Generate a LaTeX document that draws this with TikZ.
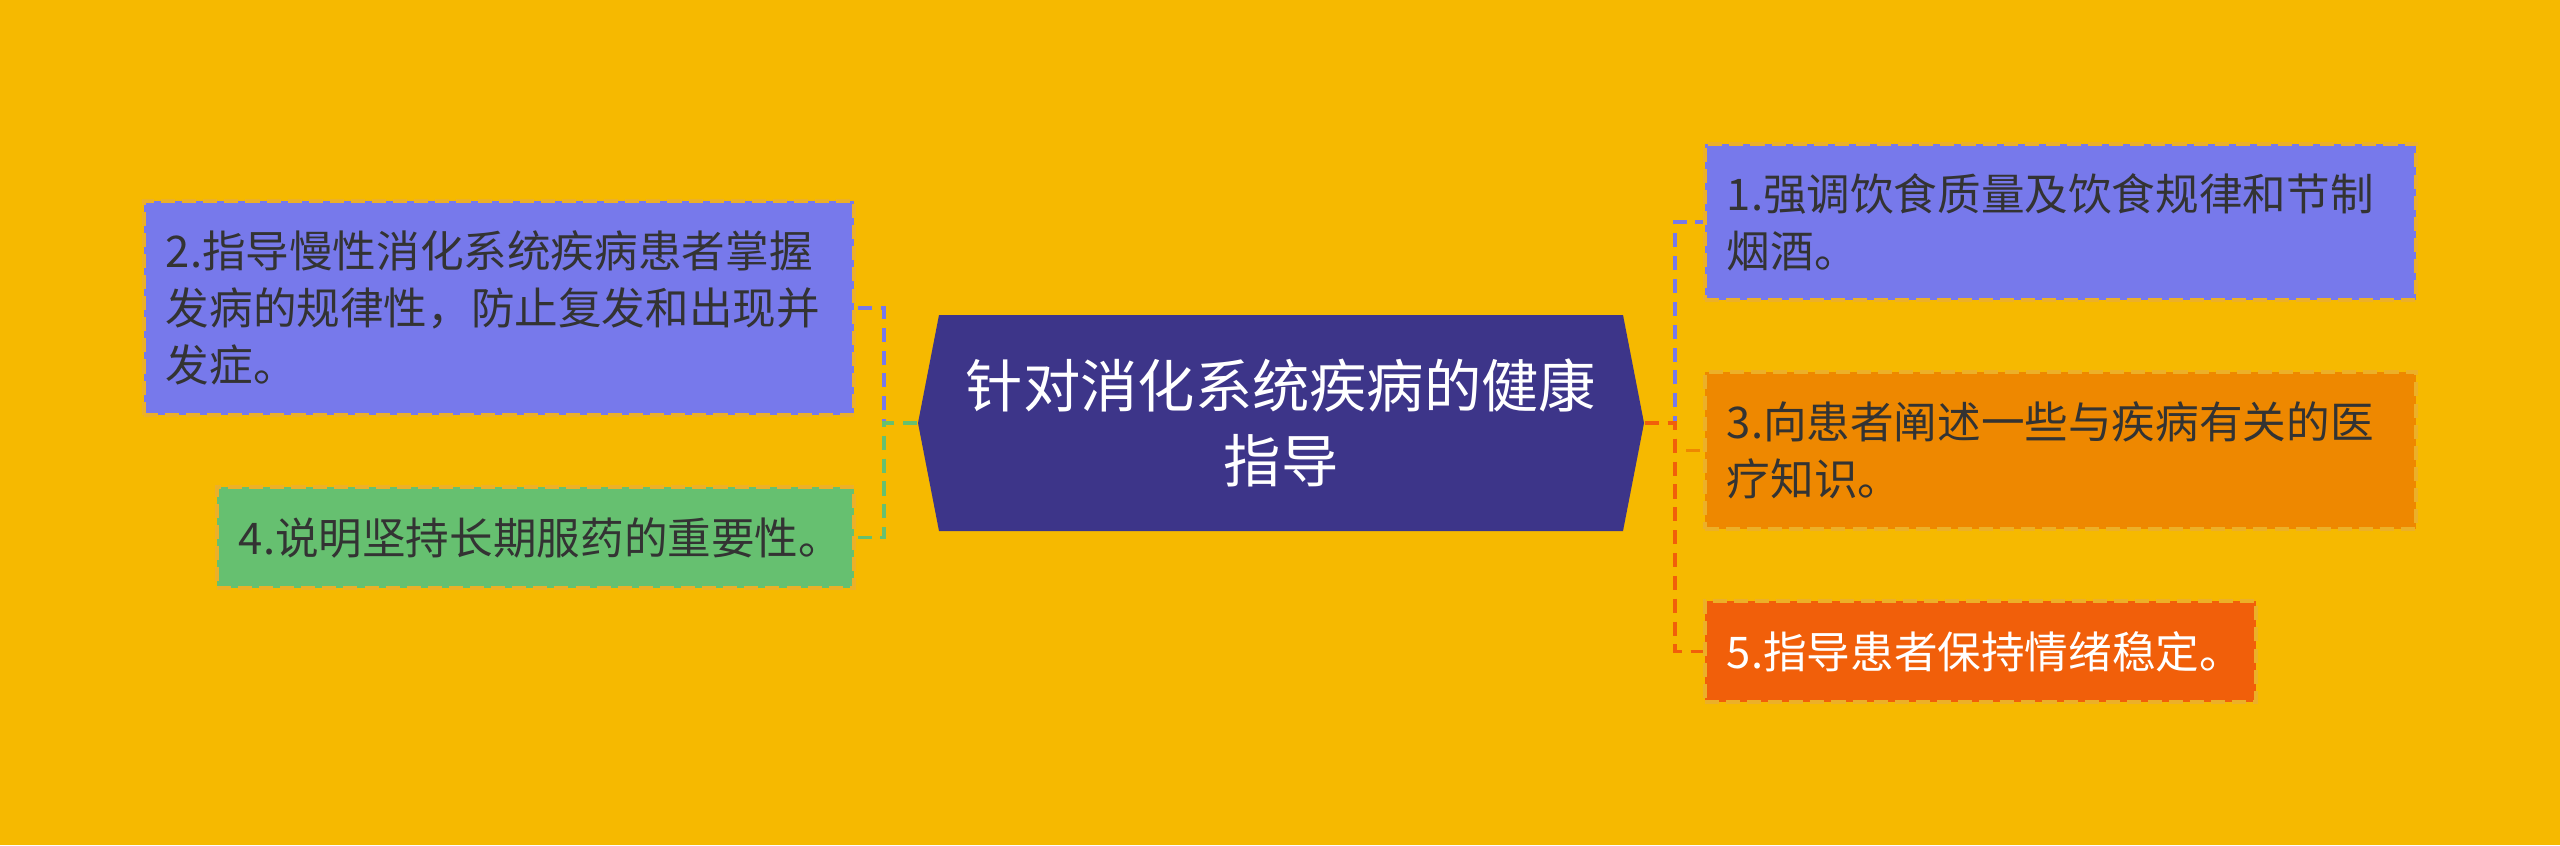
\documentclass[tikz,border=0pt]{standalone}
\usepackage{fontspec}
\usepackage{tikz}
\usepackage{xcolor}
\newfontfamily\cjk{Noto Sans CJK SC}
\definecolor{tbg}{RGB}{246,185,0}
\definecolor{tmain}{RGB}{61,53,137}
\definecolor{tblue}{RGB}{119,121,235}
\definecolor{torange}{RGB}{238,136,0}
\definecolor{tgreen}{RGB}{102,192,112}
\definecolor{tred}{RGB}{241,95,10}
\definecolor{tedgecol}{RGB}{236,176,40}
\definecolor{ttext}{RGB}{51,51,51}

\begin{document}
\begin{tikzpicture}[x=0.01cm,y=-0.01cm]
\tikzstyle{box} = [
  shape=rectangle,
  draw=tedgecol,
  dash pattern=on 4pt off 2pt,
  line width=1pt,
  inner xsep=0.22cm,
  inner ysep=0pt,
  align=left,
  text=ttext,
  font=\cjk\fontsize{12.4pt}{16.2pt}\selectfont
]
\tikzstyle{mainnode} = [
  shape=rectangle,
  minimum width=7.26cm,
  minimum height=2.16cm,
  inner sep=0pt,
  align=center,
  text=white,
  font=\cjk\fontsize{16.3pt}{21.4pt}\selectfont
]
\tikzstyle{conn} = [
  line width=1pt,
  dash pattern=on 4pt off 2.5pt
]

\fill[tbg] (0,0) rectangle (2560,845);

% central hexagon
\fill[tmain] (918,423) -- (939,315) -- (1623,315) -- (1644,423) -- (1623,531) -- (939,531) -- cycle;
\node[mainnode] (m) at (1281,423) {针对消化系统疾病的健康\\指导};

\node[box, fill=tblue, text width=6.67cm, minimum height=1.56cm] (b1) at (2060.5,222) {1.强调饮食质量及饮食规律和节制\\烟酒。};
\node[box, fill=torange, text width=6.67cm, minimum height=1.57cm] (b3) at (2060.5,450.5) {3.向患者阐述一些与疾病有关的医\\疗知识。};
\node[box, fill=tred, text=white, text width=5.07cm, minimum height=1.01cm] (b5) at (1980.5,651.5) {5.指导患者保持情绪稳定。};
\node[box, fill=tblue, text width=6.66cm, minimum height=2.14cm] (b2) at (499,308) {2.指导慢性消化系统疾病患者掌握\\发病的规律性，防止复发和出现并\\发症。};
\node[box, fill=tgreen, text width=5.93cm, minimum height=1.01cm] (b4) at (535.5,537.5) {4.说明坚持长期服药的重要性。};

\draw[conn, tblue] (m.east) -- ++(30,0) |- (b1.west);
\draw[conn, torange] (m.east) -- ++(30,0) |- (b3.west);
\draw[conn, tred] (m.east) -- ++(30,0) |- (b5.west);
\draw[conn, tblue] (m.west) -- ++(-33,0) |- (b2.east);
\draw[conn, tgreen] (m.west) -- ++(-33,0) |- (b4.east);

\end{tikzpicture}
\end{document}
